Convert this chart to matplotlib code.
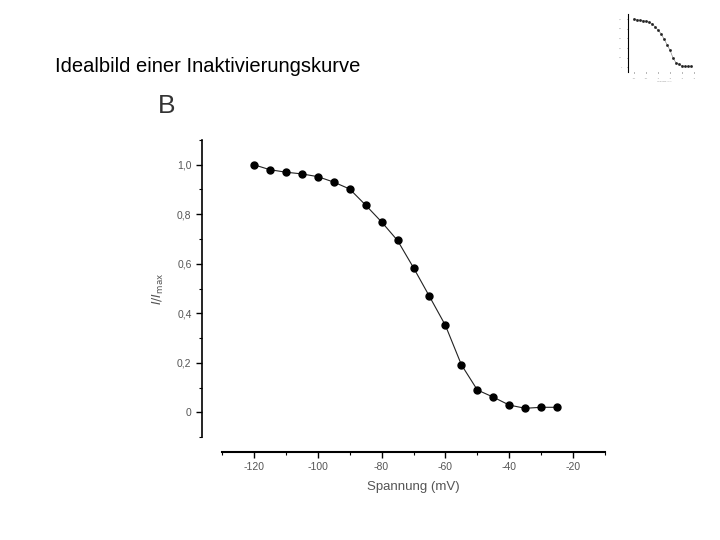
import numpy as np
import matplotlib
matplotlib.use('Agg')
import matplotlib.pyplot as plt
from matplotlib.ticker import MultipleLocator, FuncFormatter

plt.rcParams['font.family'] = ['Liberation Sans', 'DejaVu Sans']
plt.rcParams['axes.unicode_minus'] = False

# Messwerte (Spannung in mV, normierter Strom)
spannung = [-120, -115, -110, -105, -100, -95, -90, -85, -80, -75,
            -70, -65, -60, -55, -50, -45, -40, -35, -30, -25]
strom = [1.0, 0.98, 0.97, 0.963, 0.952, 0.93, 0.902, 0.837, 0.769, 0.694,
         0.584, 0.468, 0.351, 0.192, 0.09, 0.061, 0.029, 0.016, 0.02, 0.02]

x_ticks = [-120, -100, -80, -60, -40, -20]
y_ticks = [0, 0.2, 0.4, 0.6, 0.8, 1.0]

grau = '#555555'


def komma(v, pos):
    if abs(v) < 1e-9:
        return '0'
    return ('%.1f' % v).replace('.', ',')


fig = plt.figure(figsize=(7.2, 5.4), dpi=100)

fig.text(55 / 720, 1 - 66 / 540, 'Idealbild einer Inaktivierungskurve',
         fontsize=14.5, va='center', ha='left', color='black')
fig.text(158 / 720, 1 - 106 / 540, 'B', fontsize=19, va='center', ha='left',
         color='#333333')

# Hauptdiagramm
ax = fig.add_axes([222 / 720, 1 - 437 / 540, 383 / 720, 297 / 540])
ax.plot(spannung, strom, color='#222222', lw=0.8)
ax.plot(spannung, strom, 'o', color='black', ms=5)
ax.set_xlim(-130, -10)
ax.set_ylim(-0.1, 1.1)
for s in ['top', 'right']:
    ax.spines[s].set_visible(False)
ax.spines['left'].set_position(('outward', 14.4))
ax.spines['bottom'].set_position(('outward', 10.8))
ax.spines['left'].set_linewidth(1.2)
ax.spines['bottom'].set_linewidth(1.5)
ax.set_xticks(x_ticks)
ax.set_yticks(y_ticks)
ax.xaxis.set_minor_locator(MultipleLocator(10))
ax.yaxis.set_minor_locator(MultipleLocator(0.1))
ax.yaxis.set_major_formatter(FuncFormatter(komma))
ax.tick_params(which='major', length=4, width=1, labelsize=7.5, labelcolor=grau)
ax.tick_params(which='minor', length=2.5, width=0.8)
ax.set_xlabel('Spannung (mV)', fontsize=9.5, color=grau, labelpad=6)
ax.set_ylabel(r'$I/I_{\rm max}$', fontsize=9, color=grau, labelpad=8)

# kleines Vorschaubild oben rechts
ax2 = fig.add_axes([628 / 720, 1 - 72 / 540, 72 / 720, 58 / 540])
ax2.plot(spannung, strom, color='#777777', lw=0.4)
ax2.plot(spannung, strom, 's', color='#222222', ms=0.9)
ax2.set_xlim(-130, -10)
ax2.set_ylim(-0.1, 1.1)
for s in ['top', 'right']:
    ax2.spines[s].set_visible(False)
ax2.spines['left'].set_linewidth(0.8)
ax2.spines['bottom'].set_visible(False)
ax2.set_xticks(x_ticks)
ax2.set_yticks(y_ticks)
ax2.tick_params(length=1, width=0.4, labelsize=1.5, labelcolor='#999999')
ax2.yaxis.set_major_formatter(FuncFormatter(komma))
ax2.set_xlabel('Spannung (mV)', fontsize=1.5, color='#999999', labelpad=1)

plt.savefig('out.png', dpi=100)
